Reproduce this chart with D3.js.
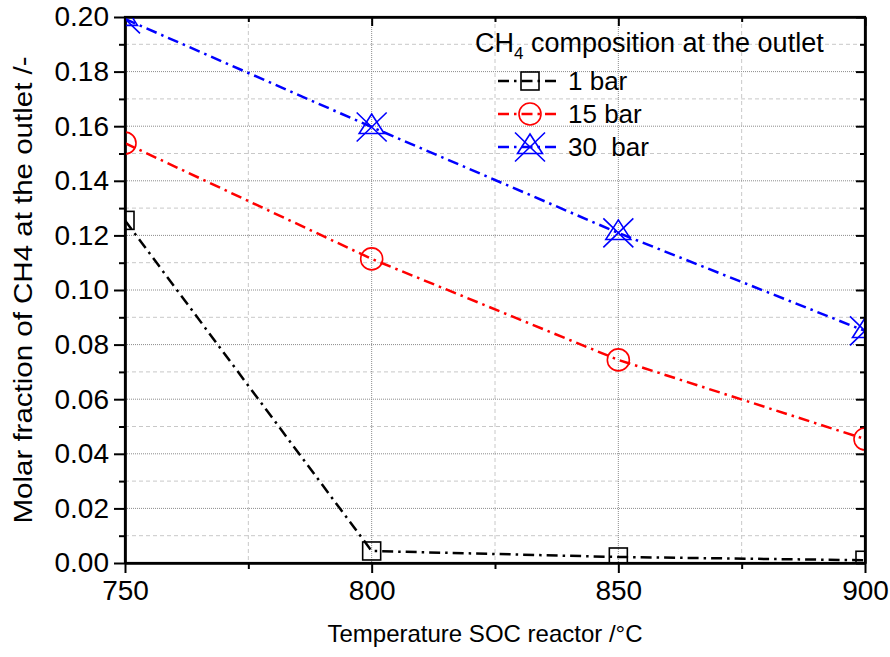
<!DOCTYPE html>
<html>
<head>
<meta charset="utf-8">
<script src="https://cdn.jsdelivr.net/npm/d3@7"></script>
<style>
  body { margin: 0; background: #fff; }
  svg { font-family: "Liberation Sans", Arial, sans-serif; }
</style>
</head>
<body>
<div id="chart"></div>
<script>
// Data
const temperatures = [750, 800, 850, 900];
const bar1 = [0.1255, 0.0044, 0.0022, 0.001];
const bar15 = [0.1538, 0.1114, 0.0744, 0.0454];
const bar30 = [0.1993, 0.1597, 0.1209, 0.085];
const seriesNames = ["1 bar", "15 bar", "30  bar"];
const seriesColors = ["#000000", "#ff0000", "#0000ff"];
const seriesMarkers = ["square", "circle", "startri"];
const xTicks = [750, 800, 850, 900];
const yTicks = [0, 0.02, 0.04, 0.06, 0.08, 0.1, 0.12, 0.14, 0.16, 0.18, 0.2];

const series = [bar1, bar15, bar30].map((vals, i) => ({
  name: seriesNames[i],
  color: seriesColors[i],
  marker: seriesMarkers[i],
  points: temperatures.map((t, j) => ({ x: t, y: vals[j] })),
}));

var margin = { top: 17, right: 25, bottom: 94, left: 125 },
  totalW = 890,
  totalH = 657,
  width = totalW - margin.left - margin.right,
  height = totalH - margin.top - margin.bottom;

const svg = d3
  .select("#chart")
  .append("svg")
  .attr("width", totalW)
  .attr("height", totalH);

const g = svg
  .append("g")
  .attr("transform", "translate(" + margin.left + "," + margin.top + ")");

const x = d3.scaleLinear().domain([750, 900]).range([0, width]);
const y = d3.scaleLinear().domain([0, 0.2]).range([height, 0]);

const xMinor = d3.range(775, 900, 50);
const yMinor = d3.range(0.01, 0.2, 0.02);

// clip for data
svg
  .append("defs")
  .append("clipPath")
  .attr("id", "plot-clip")
  .append("rect")
  .attr("width", width)
  .attr("height", height);

// grid lines: minor dashed, major dotted
const grid = g.append("g").attr("class", "grid");
grid
  .selectAll(".ymin")
  .data(yMinor)
  .enter()
  .append("line")
  .attr("x1", 0)
  .attr("x2", width)
  .attr("y1", (d) => y(d))
  .attr("y2", (d) => y(d))
  .attr("stroke", "#c8c8c8")
  .attr("stroke-dasharray", "4,3");
grid
  .selectAll(".xmin")
  .data(xMinor)
  .enter()
  .append("line")
  .attr("y1", 0)
  .attr("y2", height)
  .attr("x1", (d) => x(d))
  .attr("x2", (d) => x(d))
  .attr("stroke", "#c8c8c8")
  .attr("stroke-dasharray", "4,3");
grid
  .selectAll(".ymaj")
  .data(yTicks.slice(1, -1))
  .enter()
  .append("line")
  .attr("x1", 0)
  .attr("x2", width)
  .attr("y1", (d) => y(d))
  .attr("y2", (d) => y(d))
  .attr("stroke", "#8c8c8c")
  .attr("stroke-dasharray", "1,1");
grid
  .selectAll(".xmaj")
  .data(xTicks.slice(1, -1))
  .enter()
  .append("line")
  .attr("y1", 0)
  .attr("y2", height)
  .attr("x1", (d) => x(d))
  .attr("x2", (d) => x(d))
  .attr("stroke", "#8c8c8c")
  .attr("stroke-dasharray", "1,1");

// axes
function styleAxis(sel) {
  sel.select(".domain").attr("stroke-width", 2.2);
  sel.selectAll(".tick line").attr("stroke-width", 2);
}

const yAxis = g
  .append("g")
  .call(
    d3.axisLeft(y).tickValues(yTicks).tickFormat(d3.format(".2f")).tickSize(11).tickSizeOuter(0).tickPadding(5)
  )
  .call(styleAxis);
yAxis.selectAll("text").attr("font-size", 28).attr("fill", "#000").attr("font-family", "Liberation Sans, Arial, sans-serif");
g.append("g")
  .call(d3.axisLeft(y).tickValues(yMinor).tickFormat("").tickSize(6).tickSizeOuter(0))
  .call(styleAxis);

const xAxis = g
  .append("g")
  .attr("transform", "translate(0," + height + ")")
  .call(d3.axisBottom(x).tickValues(xTicks).tickFormat(d3.format("d")).tickSize(10).tickSizeOuter(0).tickPadding(7))
  .call(styleAxis);
xAxis.selectAll("text").attr("font-size", 28).attr("fill", "#000").attr("font-family", "Liberation Sans, Arial, sans-serif");
g.append("g")
  .attr("transform", "translate(0," + height + ")")
  .call(d3.axisBottom(x).tickValues(xMinor).tickFormat("").tickSize(6).tickSizeOuter(0))
  .call(styleAxis);

// mirror axes (inward ticks)
g.append("g")
  .call(d3.axisBottom(x).tickValues(xTicks).tickFormat("").tickSize(9).tickSizeOuter(0))
  .call(styleAxis);
g.append("g")
  .call(d3.axisBottom(x).tickValues(xMinor).tickFormat("").tickSize(5).tickSizeOuter(0))
  .call(styleAxis);
g.append("g")
  .attr("transform", "translate(" + width + ",0)")
  .call(d3.axisRight(y).tickValues(yTicks).tickFormat("").tickSize(-9).tickSizeOuter(0))
  .call(styleAxis);
g.append("g")
  .attr("transform", "translate(" + width + ",0)")
  .call(d3.axisRight(y).tickValues(yMinor).tickFormat("").tickSize(-5).tickSizeOuter(0))
  .call(styleAxis);

// markers
function drawMarker(sel, type, color, cx, cy) {
  if (type === "square") {
    sel.append("rect")
      .attr("x", cx - 9).attr("y", cy - 9)
      .attr("width", 18).attr("height", 18)
      .attr("fill", "none").attr("stroke", color).attr("stroke-width", 1.6);
  } else if (type === "circle") {
    sel.append("circle")
      .attr("cx", cx).attr("cy", cy).attr("r", 11)
      .attr("fill", "none").attr("stroke", color).attr("stroke-width", 1.6);
  } else {
    const tri = [[cx, cy - 13], [cx + 12.5, cy + 6.5], [cx - 12.5, cy + 6.5]];
    sel.append("path")
      .attr("d", "M" + tri.join("L") + "Z")
      .attr("fill", "none").attr("stroke", color).attr("stroke-width", 1.6);
    sel.append("path")
      .attr("d", `M${cx - 15},${cy - 14.5}L${cx + 15},${cy + 14.5}M${cx + 15},${cy - 14.5}L${cx - 15},${cy + 14.5}`)
      .attr("fill", "none").attr("stroke", color).attr("stroke-width", 1.6);
  }
}

const dash = "11,5,2.5,5";
const line = d3
  .line()
  .x((d) => x(d.x))
  .y((d) => y(d.y));

const dataG = g.append("g").attr("clip-path", "url(#plot-clip)");
series.forEach((s) => {
  dataG
    .append("path")
    .datum(s.points)
    .attr("d", line)
    .attr("fill", "none")
    .attr("stroke", s.color)
    .attr("stroke-width", 2.5)
    .attr("stroke-dasharray", dash);
  s.points.forEach((p) => drawMarker(dataG, s.marker, s.color, x(p.x), y(p.y)));
});

// frame on top
g.append("rect")
  .attr("width", width)
  .attr("height", height)
  .attr("fill", "none")
  .attr("stroke", "#000")
  .attr("stroke-width", 2.2);

// legend
const legend = svg.append("g").attr("font-size", 26);
const title = legend.append("text").attr("x", 475).attr("y", 52).attr("font-size", 27);
title.append("tspan").text("CH");
title.append("tspan").text("4").attr("font-size", 17).attr("dy", 7);
title.append("tspan").text(" composition at the outlet").attr("dy", -7);

series.forEach((s, i) => {
  const ly = 81 + i * 33;
  legend
    .append("line")
    .attr("x1", 498)
    .attr("x2", 558)
    .attr("y1", ly)
    .attr("y2", ly)
    .attr("stroke", s.color)
    .attr("stroke-width", 2.5)
    .attr("stroke-dasharray", dash);
  drawMarker(legend, s.marker, s.color, 530, ly);
  legend
    .append("text")
    .attr("x", 568)
    .attr("y", ly + 9)
    .style("white-space", "pre")
    .text(s.name);
});

// axis titles
svg
  .append("text")
  .attr("x", margin.left + width / 2 - 10)
  .attr("y", 642)
  .attr("text-anchor", "middle")
  .attr("font-size", 24)
  .text("Temperature SOC reactor /°C");

svg
  .append("text")
  .attr("transform", "translate(32," + (margin.top + height / 2) + ") rotate(-90) scale(1.18,1)")
  .attr("text-anchor", "middle")
  .attr("font-size", 25)
  .text("Molar fraction of CH4 at the outlet /-");
</script>
</body>
</html>
